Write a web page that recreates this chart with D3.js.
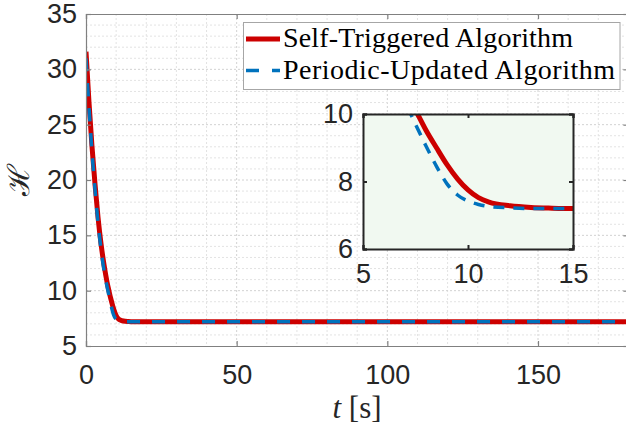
<!DOCTYPE html>
<html>
<head>
<meta charset="utf-8">
<script src="https://cdn.jsdelivr.net/npm/d3@7"></script>
<style>
  html, body { margin: 0; padding: 0; background: #fff; }
  svg { display: block; }
</style>
</head>
<body>
<svg id="chart" width="626" height="429"></svg>
<script>
// ---- data ----
const seriesNames = ["Self-Triggered Algorithm", "Periodic-Updated Algorithm"];
const tSelf = [0, 1, 2, 3, 4, 5, 6, 7, 7.6, 8, 8.5, 9, 9.5, 10, 10.5, 11, 12, 13, 14, 15, 20, 40, 60, 80, 100, 120, 140, 160, 180];
const hSelf = [31.6, 27.0, 23.0, 19.6, 16.6, 14.2, 12.3, 10.75, 10.0, 9.52, 9.0, 8.5, 8.08, 7.75, 7.52, 7.39, 7.28, 7.23, 7.21, 7.2, 7.2, 7.2, 7.2, 7.2, 7.2, 7.2, 7.2, 7.2, 7.2];
const tPer = [0, 1, 2, 3, 4, 5, 6, 7, 7.27, 8, 8.5, 9, 9.5, 10, 10.5, 11, 12, 13, 15, 20, 40, 60, 80, 100, 120, 140, 160, 180];
const hPer = [31.0, 26.5, 22.5, 19.1, 16.1, 13.7, 11.8, 10.35, 10.0, 9.05, 8.45, 7.93, 7.6, 7.42, 7.32, 7.26, 7.22, 7.2, 7.2, 7.2, 7.2, 7.2, 7.2, 7.2, 7.2, 7.2, 7.2, 7.2];
const xTicks = [0, 50, 100, 150];
const yTicks = [5, 10, 15, 20, 25, 30, 35];
const insetXTicks = [5, 10, 15];
const insetYTicks = [6, 8, 10];

const selfData = tSelf.map((t, i) => ({t, h: hSelf[i]}));
const perData = tPer.map((t, i) => ({t, h: hPer[i]}));

const red = "#cc0000", blue = "#0072bd";
const svg = d3.select("#chart");

// ---- main axes ----
const L = 86, R = 628.4, T = 14, B = 346;
const x = d3.scaleLinear().domain([0, 180]).range([L, R]);
const y = d3.scaleLinear().domain([5, 35]).range([B, T]);

const grid = svg.append("g");
d3.range(10, 180, 10).forEach(v => {
  grid.append("line").attr("x1", x(v)).attr("x2", x(v)).attr("y1", T).attr("y2", B)
    .attr("stroke", v % 50 === 0 ? "#d2d2d2" : "#e3e3e3").attr("stroke-width", 1)
    .attr("stroke-dasharray", "2,2");
});
d3.range(6, 35, 1).forEach(v => {
  grid.append("line").attr("x1", L).attr("x2", R).attr("y1", y(v)).attr("y2", y(v))
    .attr("stroke", v % 5 === 0 ? "#d2d2d2" : "#e3e3e3").attr("stroke-width", 1)
    .attr("stroke-dasharray", "2,2");
});

svg.append("clipPath").attr("id", "mainclip").append("rect")
  .attr("x", L).attr("y", T - 10).attr("width", R - L).attr("height", B - T + 10);

const lineMain = d3.line().x(d => x(d.t)).y(d => y(d.h)).curve(d3.curveMonotoneX);
const plot = svg.append("g").attr("clip-path", "url(#mainclip)");
plot.append("path").datum(selfData).attr("d", lineMain)
  .attr("fill", "none").attr("stroke", red).attr("stroke-width", 5);
plot.append("path").datum(perData).attr("d", lineMain)
  .attr("fill", "none").attr("stroke", blue).attr("stroke-width", 3.5)
  .attr("stroke-dasharray", "13,12");

// axes
const axCol = "#808080";
const tickFont = "'Liberation Sans', Arial, sans-serif";
const fmt = d3.format("d");
const gx = svg.append("g").attr("transform", `translate(0,${B})`)
  .call(d3.axisBottom(x).tickValues(xTicks).tickSize(-5).tickPadding(18).tickFormat(fmt));
const gxt = svg.append("g").attr("transform", `translate(0,${T})`)
  .call(d3.axisTop(x).tickValues(xTicks).tickSize(-5).tickFormat(""));
const gy = svg.append("g").attr("transform", `translate(${L},0)`)
  .call(d3.axisLeft(y).tickValues(yTicks).tickSize(-5).tickPadding(9).tickFormat(fmt));
const gyr = svg.append("g").attr("transform", `translate(${R},0)`)
  .call(d3.axisRight(y).tickValues(yTicks).tickSize(-5).tickFormat(""));
[gx, gxt, gy, gyr].forEach(g => {
  g.select(".domain").attr("stroke", axCol).attr("stroke-width", 1.2);
  g.selectAll(".tick line").attr("stroke", axCol).attr("stroke-width", 1.2);
  g.selectAll("text").attr("fill", "#262626").style("font-family", tickFont).style("font-size", "27px");
});
gx.selectAll("text").attr("dy", "0.75em");

// axis labels
svg.append("text").attr("x", 357).attr("y", 418).attr("text-anchor", "middle")
  .style("font-family", "'Liberation Serif', 'DejaVu Serif', serif").style("font-size", "31px").attr("fill", "#262626")
  .html('<tspan font-style="italic">t</tspan> [s]');
svg.append("text").attr("transform", "translate(29,180) rotate(-90)").attr("text-anchor", "middle")
  .style("font-family", "'DejaVu Serif', serif").style("font-size", "30px").attr("fill", "#262626")
  .text("ℋ");

// ---- legend ----
const lg = svg.append("g");
lg.append("rect").attr("x", 243.5).attr("y", 22.5).attr("width", 376.5).attr("height", 67)
  .attr("fill", "#fff").attr("stroke", "#a6a6a6").attr("stroke-width", 1);
lg.append("line").attr("x1", 246).attr("x2", 280).attr("y1", 39).attr("y2", 39)
  .attr("stroke", red).attr("stroke-width", 5);
lg.append("line").attr("x1", 246).attr("x2", 280).attr("y1", 70.5).attr("y2", 70.5)
  .attr("stroke", blue).attr("stroke-width", 3.5).attr("stroke-dasharray", "13,13");
const legFont = "'Liberation Serif', 'Times New Roman', serif";
const legTargets = [290, 332];
[47, 78.5].forEach((yy, i) => {
  const t = lg.append("text").attr("x", 283).attr("y", yy).text(seriesNames[i])
    .style("font-family", legFont).style("font-size", "25px").attr("fill", "#000");
  const w = t.node().getComputedTextLength();
  const fs = Math.min(28, 25 * legTargets[i] / w);
  t.style("font-size", fs + "px");
  t.attr("textLength", legTargets[i]).attr("lengthAdjust", "spacing");
});

// ---- inset ----
const iL = 363, iR = 573, iT = 114, iB = 249;
const ix = d3.scaleLinear().domain([5, 15]).range([iL, iR]);
const iy = d3.scaleLinear().domain([6, 10]).range([iB, iT]);
const inset = svg.append("g");
inset.append("rect").attr("x", iL).attr("y", iT).attr("width", iR - iL).attr("height", iB - iT)
  .attr("fill", "#f1f9f1");
svg.append("clipPath").attr("id", "insetclip").append("rect")
  .attr("x", iL).attr("y", iT).attr("width", iR - iL).attr("height", iB - iT);
const lineInset = d3.line().x(d => ix(d.t)).y(d => iy(d.h)).curve(d3.curveMonotoneX);
const ip = inset.append("g").attr("clip-path", "url(#insetclip)");
ip.append("path").datum(selfData.filter(d => d.t <= 20)).attr("d", lineInset)
  .attr("fill", "none").attr("stroke", red).attr("stroke-width", 5);
ip.append("path").datum(perData.filter(d => d.t <= 20)).attr("d", lineInset)
  .attr("fill", "none").attr("stroke", blue).attr("stroke-width", 3.5)
  .attr("stroke-dasharray", "11,9");

const iCol = "#262626";
const igx = inset.append("g").attr("transform", `translate(0,${iB})`)
  .call(d3.axisBottom(ix).tickValues(insetXTicks).tickSize(-4).tickPadding(14).tickFormat(fmt));
const igxt = inset.append("g").attr("transform", `translate(0,${iT})`)
  .call(d3.axisTop(ix).tickValues(insetXTicks).tickSize(-4).tickFormat(""));
const igy = inset.append("g").attr("transform", `translate(${iL},0)`)
  .call(d3.axisLeft(iy).tickValues(insetYTicks).tickSize(-4).tickPadding(10).tickFormat(fmt));
const igyr = inset.append("g").attr("transform", `translate(${iR},0)`)
  .call(d3.axisRight(iy).tickValues(insetYTicks).tickSize(-4).tickFormat(""));
[igx, igxt, igy, igyr].forEach(g => {
  g.select(".domain").attr("stroke", iCol).attr("stroke-width", 2);
  g.selectAll(".tick line").attr("stroke", iCol).attr("stroke-width", 2);
  g.selectAll("text").attr("fill", "#262626").style("font-family", tickFont).style("font-size", "27px");
});
igx.selectAll("text").attr("dy", "0.75em");
</script>
</body>
</html>
